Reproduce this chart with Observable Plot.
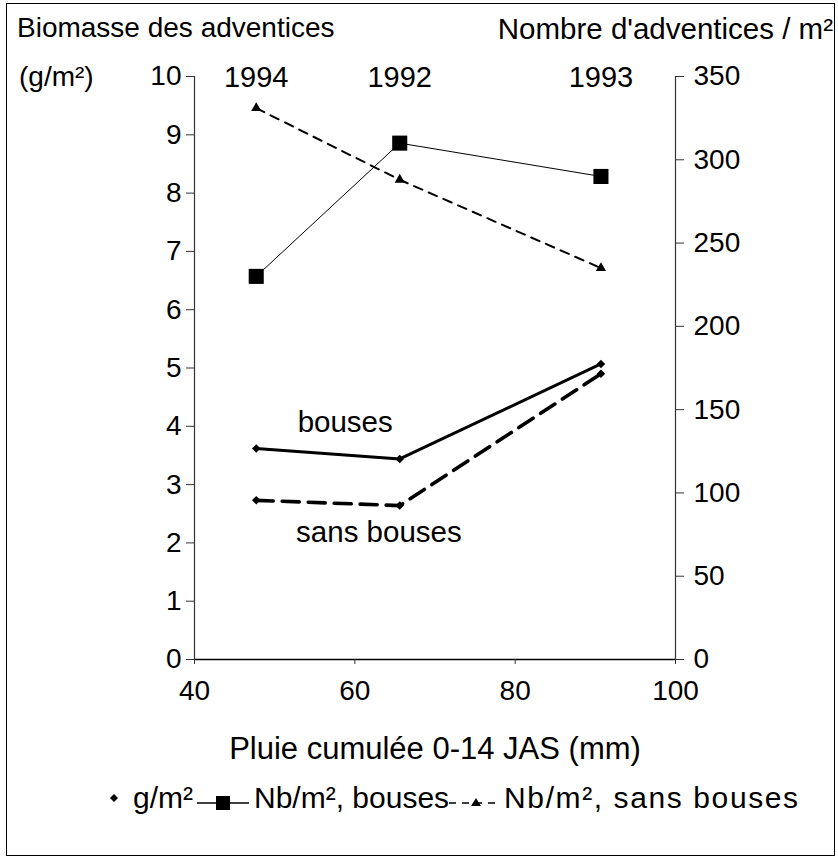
<!DOCTYPE html>
<html><head><meta charset="utf-8">
<script src="https://cdn.jsdelivr.net/npm/d3@7"></script>
<script src="https://cdn.jsdelivr.net/npm/@observablehq/plot@0.6"></script>
<style>
body{margin:0;background:#fff;font-family:"Liberation Sans",Arial,sans-serif;color:#000;}
#wrap{position:relative;width:838px;height:860px;overflow:hidden;background:#fff;}
#border{position:absolute;left:6px;top:3px;width:829px;height:853px;border:1.5px solid #000;box-sizing:border-box;}
.hdr{position:absolute;white-space:nowrap;line-height:1;}
#wrap svg{position:absolute;left:0;top:0;}
#legend{position:absolute;left:104px;top:781px;font-size:30px;display:flex;align-items:center;white-space:nowrap;}
#legend svg{position:static;}
</style>
</head><body>
<div id="wrap">
  <div id="border"></div>
  <div class="hdr" style="left:17px;top:14px;font-size:28px;">Biomasse des adventices</div>
  <div class="hdr" style="left:19px;top:63px;font-size:28px;">(g/m²)</div>
  <div class="hdr" style="right:5px;top:14px;font-size:29.5px;">Nombre d'adventices / m²</div>
  <div id="legend"></div>
</div>
<script>
// ---- data ----
const years = ["1994", "1992", "1993"];
const rain = [47.7, 65.6, 90.7];              // Pluie cumulée 0-14 JAS (mm)
const biomBouses = [3.62, 3.44, 5.07];        // g/m², bouses
const biomSans = [2.73, 2.64, 4.90];          // g/m², sans bouses
const nbBouses = [230, 310, 290];             // Nb/m², bouses
const nbSans = [331, 288, 235];               // Nb/m², sans bouses
const xTicks = [40, 60, 80, 100];
const leftTicks = [0, 1, 2, 3, 4, 5, 6, 7, 8, 9, 10];
const rightTicks = [0, 50, 100, 150, 200, 250, 300, 350];
const annotations = ["bouses", "sans bouses"];
const annotX = [58.8, 63.0];
const annotY = [4.07, 2.17];

const rows = (ys) => rain.map((x, i) => ({x, y: ys[i], year: years[i]}));
const W = 838, H = 860;
const margins = {marginLeft: 194, marginRight: 163, marginTop: 76, marginBottom: 201};
const font = {fontFamily: "Liberation Sans, Arial, sans-serif", fontSize: "28px", background: "transparent", overflow: "visible"};

const left = Plot.plot({
  width: W, height: H, ...margins, style: font,
  x: {domain: [40, 100]},
  y: {domain: [0, 10]},
  marks: [
    Plot.ruleX([40], {stroke: "#333", strokeWidth: 1.2}),
    Plot.ruleY([0], {stroke: "#000", strokeWidth: 1.5}),
    Plot.axisY({ticks: leftTicks, anchor: "left", tickSize: 8, tickPadding: 5, label: null, stroke: "#333"}),
    Plot.axisX({ticks: xTicks, anchor: "bottom", tickSize: 5, tickPadding: 16, label: null, stroke: "#333"}),
    Plot.line(rows(biomBouses), {x: "x", y: "y", stroke: "#000", strokeWidth: 3}),
    Plot.line(rows(biomSans), {x: "x", y: "y", stroke: "#000", strokeWidth: 3.6, strokeDasharray: "17,9"}),
    Plot.dot(rows(biomBouses), {x: "x", y: "y", symbol: "square", r: 3.4, rotate: 45, fill: "#000", stroke: "none"}),
    Plot.dot(rows(biomSans), {x: "x", y: "y", symbol: "square", r: 3.4, rotate: 45, fill: "#000", stroke: "none"}),
    Plot.text(annotations, {x: (d, i) => annotX[i], y: (d, i) => annotY[i], text: d => d, fontSize: 29.5}),
    Plot.text(years, {x: (d, i) => rain[i], text: d => d, frameAnchor: "top", lineAnchor: "middle", dy: 1, fontSize: 29}),
    Plot.text(["Pluie cumulée 0-14 JAS (mm)"], {frameAnchor: "bottom", lineAnchor: "middle", dy: 90, fontSize: 31, text: d => d})
  ]
});

const right = Plot.plot({
  width: W, height: H, ...margins, style: font,
  x: {domain: [40, 100], axis: null},
  y: {domain: [0, 350], axis: null},
  marks: [
    Plot.ruleX([100], {stroke: "#333", strokeWidth: 1.2}),
    Plot.axisY({ticks: rightTicks, anchor: "right", tickSize: 8, tickPadding: 10, label: null, stroke: "#333"}),
    Plot.line(rows(nbBouses), {x: "x", y: "y", stroke: "#000", strokeWidth: 1}),
    Plot.line(rows(nbSans), {x: "x", y: "y", stroke: "#000", strokeWidth: 2, strokeDasharray: "9,7"}),
    Plot.dot(rows(nbBouses), {x: "x", y: "y", symbol: "square", r: 8.5, fill: "#000", stroke: "none"}),
    Plot.dot(rows(nbSans), {x: "x", y: "y", symbol: "triangle", r: 3.8, fill: "#000", stroke: "none"})
  ]
});

const wrap = document.getElementById("wrap");
wrap.insertBefore(left, document.getElementById("legend"));
wrap.insertBefore(right, document.getElementById("legend"));

// ---- legend ----
const legendItems = [
  {label: "g/m²", spacing: 0, swatch: `<svg width="26" height="20"><path d="M10,6 L14,10 L10,14 L6,10 Z" fill="#000"/></svg>`},
  {label: "Nb/m², bouses", spacing: 0, swatch: `<svg width="58" height="30"><line x1="4" y1="20" x2="56" y2="20" stroke="#000" stroke-width="1.5"/><rect x="23" y="13" width="14" height="14" fill="#000"/></svg>`},
  {label: "Nb/m², sans bouses", spacing: 1.6, swatch: `<svg width="52" height="30"><line x1="0" y1="20" x2="52" y2="20" stroke="#000" stroke-width="1.5" stroke-dasharray="7,6"/><path d="M27,15 L32,23 L22,23 Z" fill="#000"/></svg>`}
];
document.getElementById("legend").innerHTML = legendItems.map(d =>
  `<span style="display:inline-flex;align-items:center;">${d.swatch}<span style="margin-left:3px;letter-spacing:${d.spacing}px;">${d.label}</span></span>`
).join("");
</script>
</body></html>
